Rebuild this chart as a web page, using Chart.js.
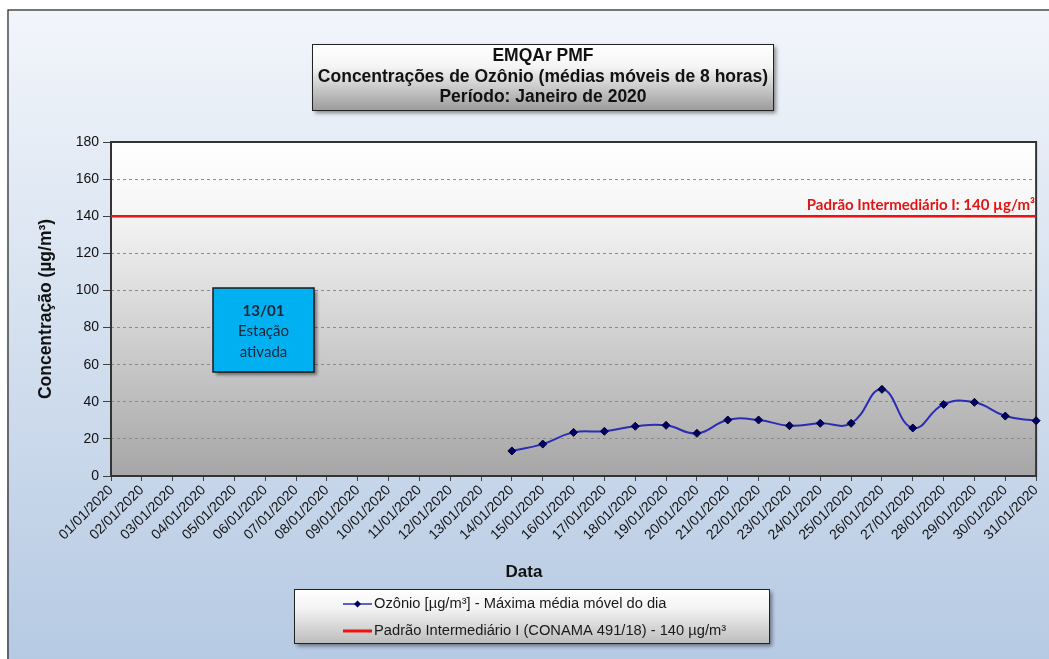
<!DOCTYPE html>
<html lang="pt-BR">
<head>
    <meta charset="UTF-8">
    <title>EMQAr PMF - Ozônio Janeiro 2020</title>
    <script src="https://cdn.jsdelivr.net/npm/chart.js"></script>
    <style>
        html, body { margin: 0; padding: 0; background: #b8cce4; }
        canvas { display: block; }
    </style>
</head>
<body>
    <canvas id="myChart" width="1049" height="659"></canvas>
    <script>
        // datas do mes (eixo x)
        const labels = [
            '01/01/2020', '02/01/2020', '03/01/2020', '04/01/2020', '05/01/2020',
            '06/01/2020', '07/01/2020', '08/01/2020', '09/01/2020', '10/01/2020',
            '11/01/2020', '12/01/2020', '13/01/2020', '14/01/2020', '15/01/2020',
            '16/01/2020', '17/01/2020', '18/01/2020', '19/01/2020', '20/01/2020',
            '21/01/2020', '22/01/2020', '23/01/2020', '24/01/2020', '25/01/2020',
            '26/01/2020', '27/01/2020', '28/01/2020', '29/01/2020', '30/01/2020',
            '31/01/2020'
        ];

        // maxima media movel de 8h do dia (estacao ativada em 13/01)
        const ozonio = [
            null, null, null, null, null, null, null, null, null, null,
            null, null, null, 13.5, 17.2, 23.5, 24.1, 26.8, 27.3, 23.0,
            30.2, 30.2, 27.1, 28.4, 28.4, 46.7, 25.9, 38.6, 39.7, 32.3,
            29.8
        ];

        // padrao intermediario I (CONAMA 491/18)
        const padrao = [
            140, 140, 140, 140, 140, 140, 140, 140, 140, 140,
            140, 140, 140, 140, 140, 140, 140, 140, 140, 140,
            140, 140, 140, 140, 140, 140, 140, 140, 140, 140,
            140
        ];

        const yTicks = { min: 0, max: 180, step: 20 };

        const titulo = [
            'EMQAr PMF',
            'Concentrações de Ozônio (médias móveis de 8 horas)',
            'Período: Janeiro de 2020'
        ];

        const arial = '"Liberation Sans", Arial, sans-serif';
        const calibri = 'Lato, "Open Sans", sans-serif';

        // fundo, caixas e legenda desenhados a mao
        const decor = {
            id: 'decor',
            beforeDraw(chart) {
                const ctx = chart.ctx;
                const w = chart.width, h = chart.height;
                const a = chart.chartArea;
                ctx.save();
                // fundo externo
                let g = ctx.createLinearGradient(0, 0, 0, h);
                g.addColorStop(0, '#f3f6fb');
                g.addColorStop(1, '#b6cae3');
                ctx.fillStyle = g;
                ctx.fillRect(0, 0, w, h);
                ctx.fillStyle = '#ffffff';
                ctx.fillRect(0, 0, w, 9);
                ctx.fillRect(0, 0, 7, h);
                ctx.strokeStyle = '#222';
                ctx.lineWidth = 1.2;
                ctx.strokeRect(8, 10, w + 20, h + 20);

                // area do grafico
                g = ctx.createLinearGradient(0, a.top, 0, a.bottom);
                g.addColorStop(0, '#ffffff');
                g.addColorStop(0.2, '#f6f6f6');
                g.addColorStop(1, '#a6a6a6');
                ctx.fillStyle = g;
                ctx.fillRect(a.left, a.top, a.right - a.left, a.bottom - a.top);

                // caixa do titulo
                drawBox(ctx, 312, 44, 461, 66, '#ffffff', '#9c9c9c');
                ctx.fillStyle = '#111';
                ctx.font = 'bold 17.5px ' + arial;
                ctx.textAlign = 'center';
                ctx.textBaseline = 'middle';
                titulo.forEach((t, i) => ctx.fillText(t, 543, 56.5 + i * 20.5));
                ctx.restore();
            },
            beforeDatasetsDraw(chart) {
                const ctx = chart.ctx;
                const a = chart.chartArea;
                ctx.save();
                ctx.strokeStyle = '#333';
                ctx.lineWidth = 2;
                ctx.strokeRect(a.left, a.top, a.right - a.left, a.bottom - a.top);

                // aviso da ativacao da estacao
                ctx.shadowColor = 'rgba(0,0,0,0.45)';
                ctx.shadowBlur = 3;
                ctx.shadowOffsetX = 3;
                ctx.shadowOffsetY = 3;
                ctx.fillStyle = '#00b0f0';
                ctx.fillRect(213, 288, 101, 84);
                ctx.shadowColor = 'transparent';
                ctx.strokeStyle = '#1a1a1a';
                ctx.lineWidth = 1.5;
                ctx.strokeRect(213, 288, 101, 84);
                ctx.fillStyle = '#1c2636';
                ctx.textAlign = 'center';
                ctx.textBaseline = 'middle';
                ctx.font = 'bold 15px ' + calibri;
                ctx.fillText('13/01', 263.5, 311);
                ctx.font = '15px ' + calibri;
                ctx.fillText('Estação', 263.5, 331);
                ctx.fillText('ativada', 263.5, 352);
                ctx.restore();
            },
            afterDatasetsDraw(chart) {
                const ctx = chart.ctx;
                const y = chart.scales.y.getPixelForValue(padrao[0]);
                ctx.save();
                ctx.fillStyle = '#e31414';
                ctx.font = 'bold 15px ' + calibri;
                ctx.textAlign = 'right';
                ctx.textBaseline = 'alphabetic';
                ctx.fillText('Padrão Intermediário I: ' + padrao[0] + ' µg/m³', 1035, y - 6);
                // titulo do eixo x
                ctx.fillStyle = '#111';
                ctx.font = 'bold 17px ' + arial;
                ctx.textAlign = 'center';
                ctx.textBaseline = 'middle';
                ctx.fillText('Data', 524, 572);
                ctx.restore();
            },
            afterDraw(chart) {
                const ctx = chart.ctx;
                ctx.save();
                drawBox(ctx, 294, 589, 475, 54, '#ffffff', '#bdbdbd');
                const rows = [604, 631];
                chart.data.datasets.forEach((ds, i) => {
                    const y = rows[i];
                    ctx.strokeStyle = ds.borderColor;
                    ctx.lineWidth = i === 0 ? 1.5 : 3;
                    ctx.beginPath();
                    ctx.moveTo(343, y);
                    ctx.lineTo(372, y);
                    ctx.stroke();
                    if (ds.pointRadius > 0) {
                        ctx.fillStyle = ds.pointBackgroundColor;
                        ctx.beginPath();
                        ctx.moveTo(357.5, y - 3.5);
                        ctx.lineTo(361, y);
                        ctx.lineTo(357.5, y + 3.5);
                        ctx.lineTo(354, y);
                        ctx.closePath();
                        ctx.fill();
                    }
                    ctx.fillStyle = '#1a1a1a';
                    ctx.font = '14.7px ' + arial;
                    ctx.textAlign = 'left';
                    ctx.textBaseline = 'middle';
                    ctx.fillText(ds.label, 374, y);
                });
                ctx.restore();
            }
        };

        function drawBox(ctx, x, y, w, h, top, bottom) {
            ctx.save();
            ctx.shadowColor = 'rgba(0,0,0,0.45)';
            ctx.shadowBlur = 4;
            ctx.shadowOffsetX = 3;
            ctx.shadowOffsetY = 3;
            const g = ctx.createLinearGradient(0, y, 0, y + h);
            g.addColorStop(0, top);
            g.addColorStop(0.35, '#f4f4f4');
            g.addColorStop(1, bottom);
            ctx.fillStyle = g;
            ctx.fillRect(x, y, w, h);
            ctx.restore();
            ctx.strokeStyle = '#222';
            ctx.lineWidth = 1;
            ctx.strokeRect(x + 0.5, y + 0.5, w, h);
        }

        const data = {
            labels: labels,
            datasets: [{
                label: 'Ozônio [µg/m³] - Máxima média móvel do dia',
                data: ozonio,
                borderColor: '#2c2cb4',
                borderWidth: 2,
                tension: 0.45,
                pointStyle: 'rectRot',
                pointRadius: 4,
                pointHoverRadius: 4,
                pointBackgroundColor: '#000066',
                pointBorderColor: '#00002a',
                pointBorderWidth: 1,
                order: 0
            }, {
                label: 'Padrão Intermediário I (CONAMA 491/18) - 140 µg/m³',
                data: padrao,
                borderColor: '#ee1111',
                borderWidth: 2.5,
                pointRadius: 0,
                tension: 0,
                order: 1
            }]
        };

        const config = {
            type: 'line',
            data: data,
            plugins: [decor],
            options: {
                responsive: false,
                animation: false,
                devicePixelRatio: 1,
                layout: {
                    padding: { left: 28, right: 12, top: 142, bottom: 69 }
                },
                plugins: {
                    legend: { display: false },
                    tooltip: { enabled: false },
                    title: { display: false }
                },
                scales: {
                    x: {
                        offset: false,
                        afterFit: (s) => { s.height = 114; },
                        grid: {
                            display: true,
                            drawOnChartArea: false,
                            tickLength: 5,
                            tickColor: '#404040',
                            tickWidth: 1
                        },
                        border: { display: false },
                        ticks: {
                            autoSkip: false,
                            minRotation: 45,
                            maxRotation: 45,
                            padding: 1,
                            color: '#111',
                            font: { family: arial, size: 14 }
                        }
                    },
                    y: {
                        min: yTicks.min,
                        max: yTicks.max,
                        afterFit: (s) => { s.width = 83; },
                        grid: {
                            color: '#8a8a8a',
                            lineWidth: 1,
                            tickLength: 8,
                            tickColor: '#404040',
                            tickBorderDash: []
                        },
                        border: { display: false, dash: [3, 3] },
                        ticks: {
                            stepSize: yTicks.step,
                            padding: 4,
                            color: '#111',
                            font: { family: arial, size: 14 }
                        },
                        title: {
                            display: true,
                            text: 'Concentração (µg/m³)',
                            color: '#111',
                            font: { family: arial, size: 17.5, weight: 'bold' },
                            padding: { top: 8, bottom: 0 }
                        }
                    }
                }
            }
        };

        const myChart = new Chart(document.getElementById('myChart'), config);
    </script>
</body>
</html>
